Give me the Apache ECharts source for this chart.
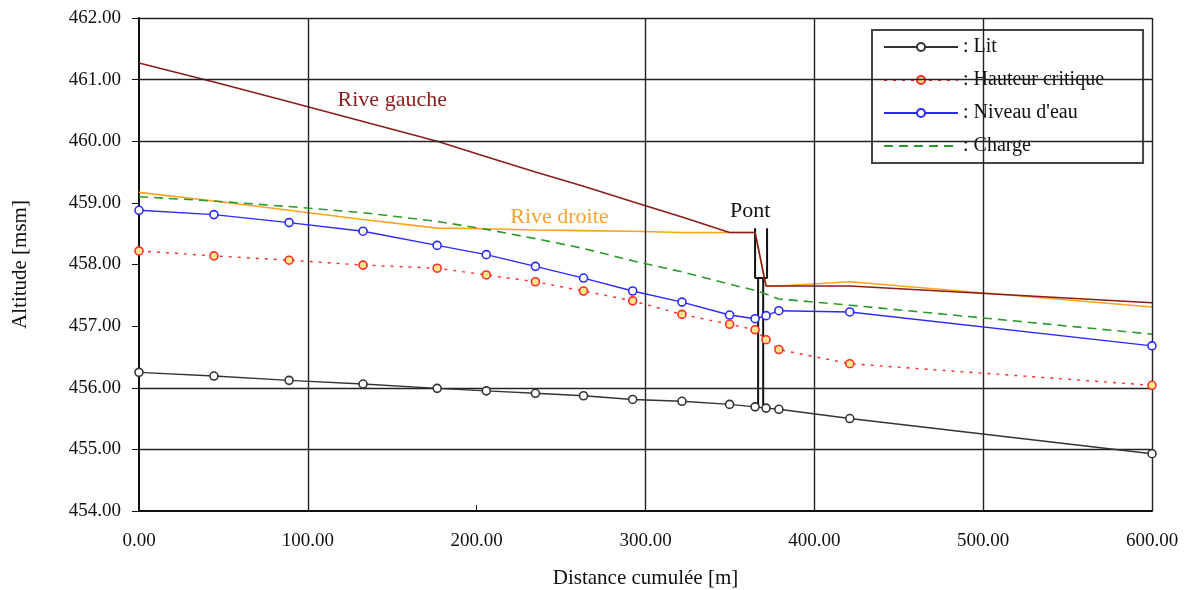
<!DOCTYPE html>
<html>
<head>
<meta charset="utf-8">
<script src="https://cdn.jsdelivr.net/npm/echarts@6/dist/echarts.min.js"></script>
<style>
  html, body { margin: 0; padding: 0; background: #fff; }
  #chart { width: 1196px; height: 590px; }
</style>
</head>
<body>
<div id="chart"></div>
<script>
// stations (distance cumulée, m)
const distance = [0, 44.4, 88.9, 132.7, 176.6, 205.7, 234.8, 263.3, 292.4, 321.6, 349.8, 364.9, 371.4, 379.0, 421.0, 600];
// altitudes [msm]
const lit = [456.25, 456.19, 456.12, 456.06, 455.99, 455.95, 455.91, 455.87, 455.81, 455.78, 455.73, 455.69, 455.67, 455.65, 455.50, 454.93];
const hauteurCritique = [458.22, 458.14, 458.07, 457.99, 457.94, 457.83, 457.72, 457.57, 457.41, 457.19, 457.03, 456.94, 456.78, 456.62, 456.39, 456.04];
const niveauEau = [458.88, 458.81, 458.68, 458.54, 458.31, 458.16, 457.97, 457.78, 457.57, 457.39, 457.18, 457.12, 457.17, 457.25, 457.23, 456.68];
const charge = [459.10, 459.03, 458.94, 458.84, 458.70, 458.57, 458.42, 458.26, 458.06, 457.88, 457.68, 457.58, 457.52, 457.44, 457.34, 456.87];
const riveGauche = [461.27, 460.96, 460.64, 460.32, 460.00, 459.75, 459.50, 459.27, 459.02, 458.77, 458.52, 458.52, 457.65, 457.65, 457.65, 457.38];
const riveDroite = [459.17, 459.03, 458.88, 458.73, 458.59, 458.58, 458.56, 458.55, 458.54, 458.52, 458.52, 458.52, 457.65, 457.65, 457.72, 457.31];

// pont : tablier (U) et deux piles
const pontTablierX = [364.9, 364.9, 372.0, 372.0];
const pontTablierY = [458.59, 457.78, 457.78, 458.59];
const pilesX = [366.7, 369.7];
const pilesY = [457.78, 455.68];

// grille (pas de ligne à 200 m ni à 457-459 msm)
const gridX = [100, 300, 400, 500, 600];
const gridY = [455, 456, 460, 461, 462];

const annotations = [
  { text: "Rive gauche", at: [150, 460.66], color: "#8b1c1c" },
  { text: "Rive droite", at: [249, 458.77], color: "#f7a233" },
  { text: "Pont", at: [362, 458.87], color: "#111" }
];

const FONT = "Liberation Serif";
const zip = (xs, ys) => xs.map((x, i) => [x, ys[i]]);

const chart = echarts.init(document.getElementById("chart"), null, { renderer: "canvas" });

const markSeries = (name, values, color, fill, lineType, z) => ({
  name: name,
  type: "line",
  data: zip(distance, values),
  symbol: "circle",
  symbolSize: 8,
  showSymbol: true,
  z: z,
  lineStyle: { color: color, width: 1.4, type: lineType },
  itemStyle: { color: fill, borderColor: color, borderWidth: 1.6 }
});

const plainSeries = (name, values, color, lineType, width, z) => ({
  name: name,
  type: "line",
  data: zip(distance, values),
  symbol: "none",
  z: z,
  lineStyle: { color: color, width: width, type: lineType },
  itemStyle: { color: color }
});

const pontSeries = (id, xs, ys) => ({
  id: id,
  type: "line",
  data: zip(xs, ys),
  symbol: "none",
  z: 3,
  lineStyle: { color: "#111", width: 2 },
  silent: true
});

chart.setOption({
  animation: false,
  backgroundColor: "#fff",
  textStyle: { fontFamily: FONT },
  grid: { left: 139, right: 44, top: 18, bottom: 79, containLabel: false, outerBoundsMode: "none" },
  legend: {
    data: [
      "Lit",
      "Hauteur critique",
      "Niveau d'eau",
      { name: "Charge", itemStyle: { color: "rgba(0,0,0,0)", borderColor: "rgba(0,0,0,0)", borderWidth: 0 } }
    ],
    orient: "vertical",
    left: 872,
    top: 30,
    padding: [7, 39, 7, 11],
    itemWidth: 74,
    itemHeight: 10,
    itemGap: 13,
    formatter: (n) => ": " + n,
    textStyle: { fontFamily: FONT, fontSize: 20, color: "#111", lineHeight: 20 },
    backgroundColor: "#fff",
    borderColor: "#444",
    borderWidth: 2,
    borderRadius: 0
  },
  xAxis: {
    type: "value",
    min: 0,
    max: 600,
    interval: 100,
    name: "Distance cumulée [m]",
    nameLocation: "middle",
    nameGap: 57,
    nameTextStyle: { fontFamily: FONT, fontSize: 21, color: "#111" },
    axisLine: { lineStyle: { color: "#111", width: 2 } },
    axisTick: { show: true, inside: true, length: 6, lineStyle: { color: "#111" } },
    axisLabel: { formatter: (v) => v.toFixed(2), fontFamily: FONT, fontSize: 19, color: "#111", margin: 21 },
    splitLine: { show: false }
  },
  yAxis: {
    type: "value",
    min: 454,
    max: 462,
    interval: 1,
    name: "Altitude [msm]",
    nameLocation: "middle",
    nameRotate: 90,
    nameGap: 108,
    nameTextStyle: { fontFamily: FONT, fontSize: 21, color: "#111" },
    axisLine: { show: true, lineStyle: { color: "#111", width: 2 } },
    axisTick: { show: true, inside: false, length: 7, lineStyle: { color: "#111" } },
    axisLabel: { formatter: (v) => v.toFixed(2), fontFamily: FONT, fontSize: 19, color: "#111", margin: 18 },
    splitLine: { show: false }
  },
  series: [
    {
      id: "grille",
      type: "line",
      data: [],
      z: 1,
      silent: true,
      markLine: {
        silent: true,
        symbol: ["none", "none"],
        label: { show: false },
        lineStyle: { color: "#222", type: "solid", width: 1.4 },
        data: gridX.map((v) => ({ xAxis: v })).concat(gridY.map((v) => ({ yAxis: v })))
      }
    },
    plainSeries("Rive droite", riveDroite, "#ffa31a", "solid", 1.6, 2),
    pontSeries("tablier", pontTablierX, pontTablierY),
    pontSeries("pileG", [pilesX[0], pilesX[0]], pilesY),
    pontSeries("pileD", [pilesX[1], pilesX[1]], pilesY),
    plainSeries("Rive gauche", riveGauche, "#8b1c1c", "solid", 1.6, 4),
    plainSeries("Charge", charge, "#2a9a2a", [9, 6], 1.6, 5),
    markSeries("Hauteur critique", hauteurCritique, "#ff2a2a", "#ffe98a", [3, 6], 6),
    markSeries("Niveau d'eau", niveauEau, "#2a2aff", "#fff", "solid", 7),
    markSeries("Lit", lit, "#333", "#fff", "solid", 8)
  ]
});

// annotations placées en coordonnées de données
chart.setOption({
  graphic: annotations.map((a) => {
    const p = chart.convertToPixel({ gridIndex: 0 }, a.at);
    return {
      type: "text",
      x: p[0],
      y: p[1],
      z: 20,
      silent: true,
      style: {
        text: a.text,
        fill: a.color,
        font: "22px '" + FONT + "'",
        align: "center",
        verticalAlign: "middle"
      }
    };
  })
});
</script>
</body>
</html>
